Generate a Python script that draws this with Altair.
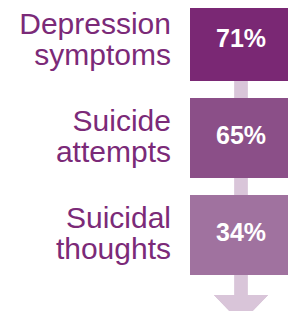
import altair as alt
import pandas as pd

categories = ["Depression symptoms", "Suicide attempts", "Suicidal thoughts"]
labels = ["Depression\nsymptoms", "Suicide\nattempts", "Suicidal\nthoughts"]
values = [71, 65, 34]
colors = ["#7A2874", "#8B4F88", "#A0729F"]

df = pd.DataFrame({
    "category": categories,
    "label": labels,
    "value": values,
    "pct": [f"{v}%" for v in values],
})

y_enc = alt.Y("category:N", sort=categories,
              scale=alt.Scale(range=[1, 275], paddingInner=0.175, paddingOuter=0),
              axis=None)

base = alt.Chart(df)

connector = base.mark_rule(color="#D9C5D9", strokeWidth=13).encode(
    x=alt.value(241), y=alt.value(81), y2=alt.value(297)
)

head = base.mark_point(
    shape="M-1,-0.52L1,-0.52L0,0.52Z", filled=True, color="#D9C5D9", opacity=1, size=2916
).encode(x=alt.value(241), y=alt.value(309))

boxes = base.mark_rect().encode(
    y=y_enc,
    x=alt.value(190), x2=alt.value(292),
    color=alt.Color("category:N", sort=categories,
                    scale=alt.Scale(domain=categories, range=colors), legend=None),
)

pct = base.mark_text(font="Liberation Sans", fontSize=25, fontWeight="bold",
                     color="white", align="center", baseline="middle", dy=-2).encode(
    y=y_enc, x=alt.value(241), text="pct:N"
)

names = base.mark_text(font="Liberation Sans", fontSize=30, color="#7B2A78",
                       align="right", baseline="middle", lineBreak="\n",
                       lineHeight=31, dy=-16).encode(
    y=y_enc, x=alt.value(171), text="label:N"
)

chart = alt.layer(connector, head, boxes, pct, names).properties(
    width=296, height=324,
    padding={"left": -8, "top": -8, "right": -8, "bottom": -13},
    autosize="none", background="white",
).configure_view(stroke=None)

chart.save("out.html", embed_options={"renderer": "svg", "actions": False})
